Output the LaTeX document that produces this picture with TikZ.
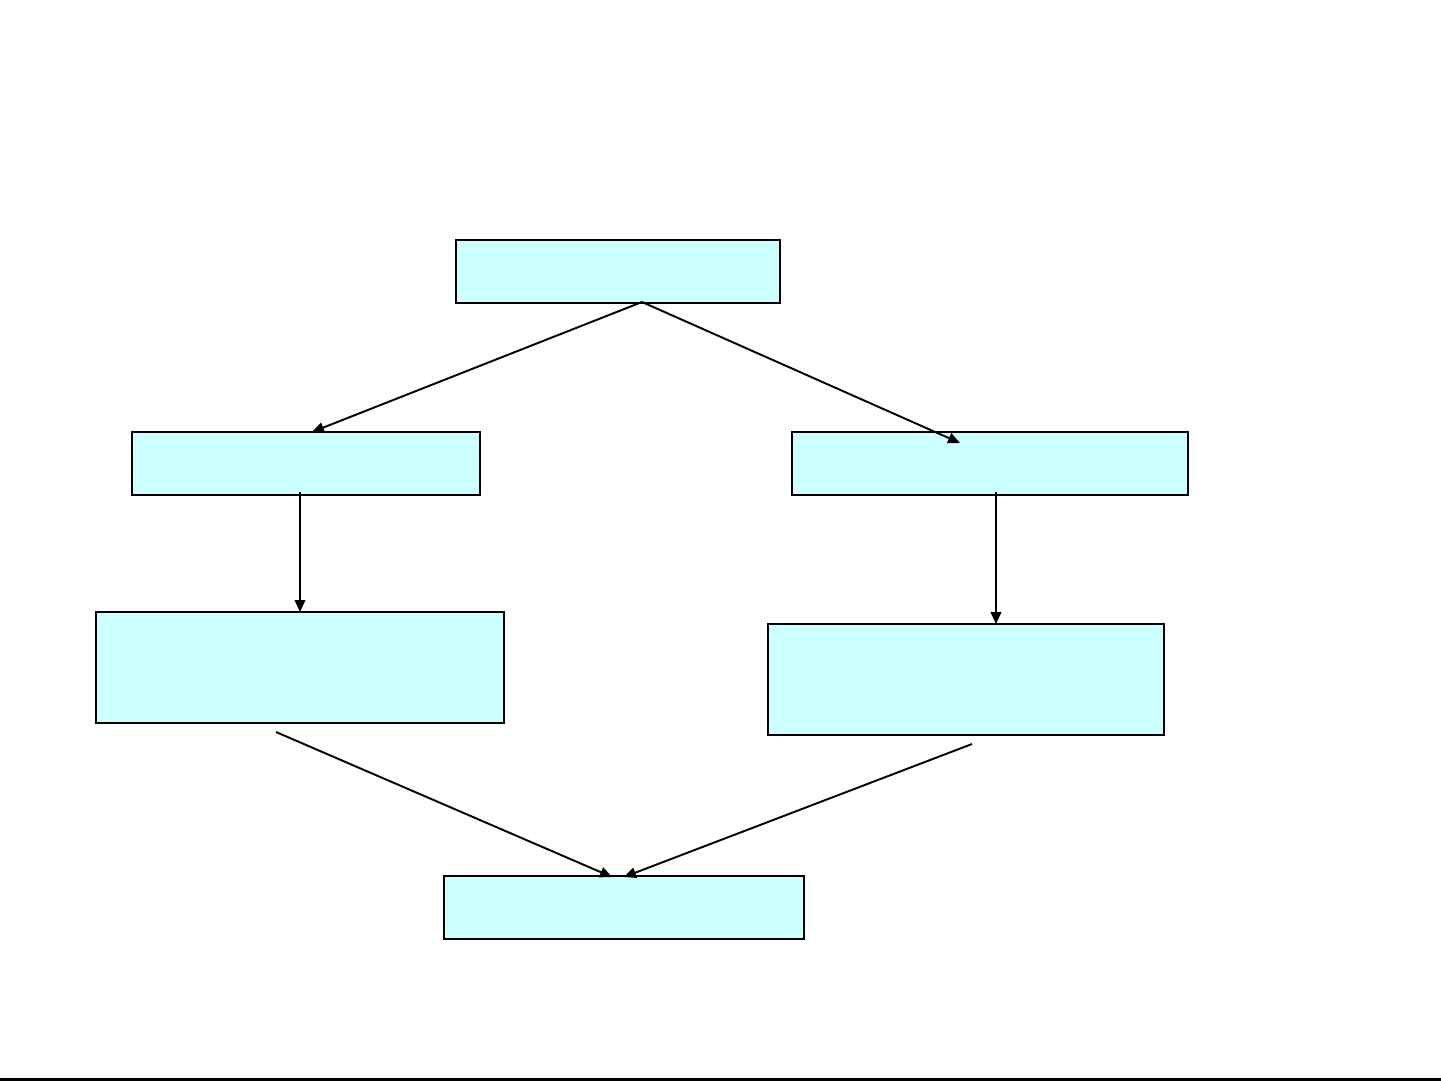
\documentclass[tikz,border=0pt]{standalone}
\usetikzlibrary{arrows.meta}
\definecolor{boxfill}{HTML}{CCFFFF}
\begin{document}
\begin{tikzpicture}[x=0.01cm,y=-0.01cm,
  box/.style={draw=black,fill=boxfill,line width=0.6pt,inner sep=0pt,outer sep=0pt,rectangle},
  conn/.style={line width=0.55pt,-{Triangle[length=3.4pt,width=3pt]}}]
\useasboundingbox (0,0) rectangle (1441,1081);
\fill[white] (0,0) rectangle (1441,1081);
% boxes
\node[box,minimum width=3.24cm,minimum height=0.63cm] (top)  at (618,271.5) {};
\node[box,minimum width=3.48cm,minimum height=0.63cm] (lmid) at (306,463.5) {};
\node[box,minimum width=3.96cm,minimum height=0.63cm] (rmid) at (990,463.5) {};
\node[box,minimum width=4.08cm,minimum height=1.11cm] (llow) at (300,667.5) {};
\node[box,minimum width=3.96cm,minimum height=1.11cm] (rlow) at (966,679.5) {};
\node[box,minimum width=3.60cm,minimum height=0.63cm] (bot)  at (624,907.5) {};
% connector endpoints
\coordinate (t0) at (642,302);
\coordinate (l1) at (312,432);
\coordinate (r1) at (960,443);
\coordinate (l2s) at (300,492);
\coordinate (l2e) at (300,612);
\coordinate (r2s) at (996,492);
\coordinate (r2e) at (996,624);
\coordinate (l3s) at (276,732);
\coordinate (l3e) at (612,877);
\coordinate (r3s) at (972,744);
\coordinate (r3e) at (624,877);
\draw[conn] (t0) -- (l1);
\draw[conn] (t0) -- (r1);
\draw[conn] (l2s) -- (l2e);
\draw[conn] (r2s) -- (r2e);
\draw[conn] (l3s) -- (l3e);
\draw[conn] (r3s) -- (r3e);
% bottom rule
\coordinate (ruleL) at (0,1079.5);
\coordinate (ruleR) at (1441,1079.5);
\draw[line width=0.6pt] (ruleL) -- (ruleR);
\end{tikzpicture}
\end{document}
